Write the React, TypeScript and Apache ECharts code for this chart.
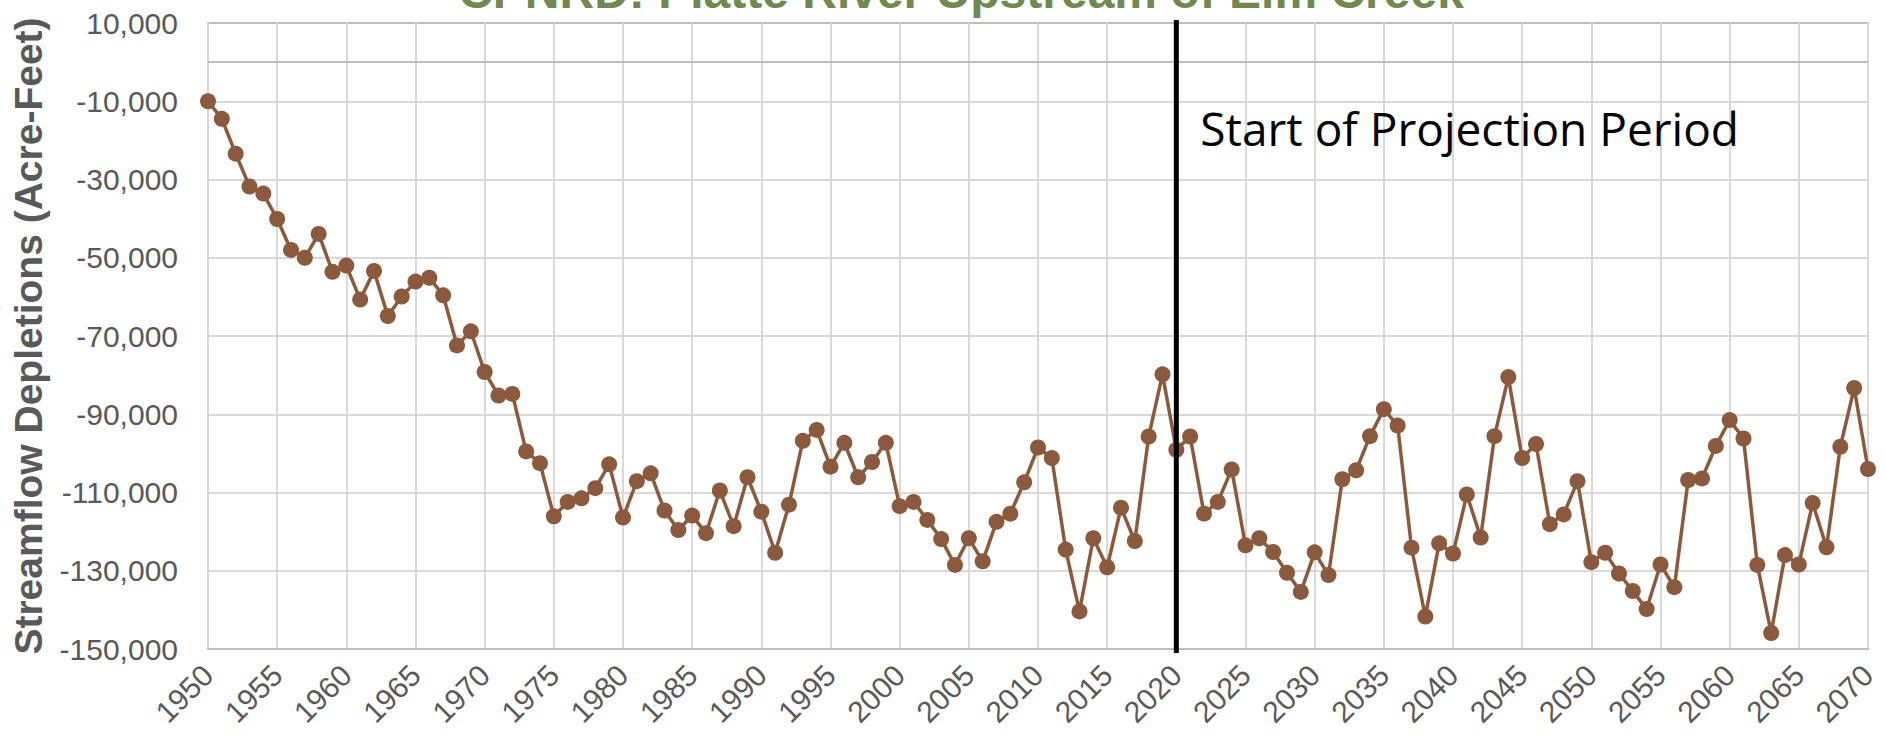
import { useEffect, useRef } from 'react';
import * as echarts from 'echarts';

// ---- data ----
const START_YEAR = 1950;
const END_YEAR = 2070;
const years: string[] = [];
for (let y = START_YEAR; y <= END_YEAR; y++) years.push(String(y));

// Streamflow depletions (acre-feet), 1950..2070
const depletions1950s = [-10000, -14500, -23400, -31800, -33600, -40100, -48000, -50000, -43900, -53600];
const depletions1960s = [-52000, -60700, -53400, -64900, -59900, -56100, -55100, -59600, -72400, -68800];
const depletions1970s = [-79200, -85200, -84800, -99500, -102500, -116100, -112400, -111500, -108900, -102800];
const depletions1980s = [-116400, -107100, -105100, -114600, -119600, -115900, -120400, -109500, -118600, -106100];
const depletions1990s = [-114900, -125400, -113100, -96800, -94000, -103400, -97300, -106100, -102200, -97300];
const depletions2000s = [-113500, -112400, -117000, -121900, -128500, -121700, -127600, -117500, -115400, -107400];
const depletions2010s = [-98500, -101200, -124600, -140400, -121700, -129100, -113900, -122400, -95700, -79800];
const depletions2020s = [-99100, -95700, -115400, -112400, -104100, -123500, -121700, -125200, -130500, -135400];
const depletions2030s = [-125300, -131100, -106600, -104300, -95600, -88700, -92900, -124100, -141700, -123000];
const depletions2040s = [-125600, -110500, -121500, -95600, -80500, -101200, -97600, -118100, -115600, -107100];
const depletions2050s = [-127800, -125400, -130700, -135200, -139800, -128400, -134200, -106800, -106400, -98100];
const depletions2060s = [-91500, -96200, -128500, -145900, -126000, -128400, -112700, -124000, -98300, -83300];
const depletions2070 = [-104000];

const depletions = [
  ...depletions1950s, ...depletions1960s, ...depletions1970s, ...depletions1980s,
  ...depletions1990s, ...depletions2000s, ...depletions2010s, ...depletions2020s,
  ...depletions2030s, ...depletions2040s, ...depletions2050s, ...depletions2060s,
  ...depletions2070,
];

const projectionStartYear = '2020';
const titleText = 'CPNRD: Platte River Upstream of Elm Creek';
const yAxisName = 'Streamflow Depletions (Acre-Feet)';
const annotationText = 'Start of Projection Period';

// y axis: labels every 20,000 from -150,000 up to 10,000
const Y_MIN = -150000;
const Y_MAX = 10000;
const Y_STEP = 10000;
const Y_LABEL_STEP = 20000;
const yGridValues: number[] = [];
for (let v = Y_MIN + Y_LABEL_STEP; v < Y_MAX; v += Y_LABEL_STEP) yGridValues.push(v);
const zeroLineValue = 0;

const BROWN = '#8B5A3E';
const GRID_GRAY = '#D9D9D9';
const BORDER_GRAY = '#BFBFBF';
const TEXT_GRAY = '#595959';
const TITLE_GREEN = '#71894F';
const FONT = 'Liberation Sans, Arial, sans-serif';

export default function App() {
  const ref = useRef<HTMLDivElement>(null);

  useEffect(() => {
    document.body.style.margin = '0';
    const chart = echarts.init(ref.current as HTMLDivElement, null, { renderer: 'svg' });
    chart.setOption({
      animation: false,
      grid: {
        left: 208,
        right: 18,
        top: 23,
        bottom: 93,
        show: true,
        borderColor: BORDER_GRAY,
        borderWidth: 2,
        backgroundColor: 'transparent',
        containLabel: false,
        outerBoundsMode: 'none',
      },
      xAxis: {
        type: 'category',
        data: years,
        boundaryGap: false,
        axisLine: { show: true, onZero: false, lineStyle: { color: BORDER_GRAY, width: 2 } },
        axisTick: { show: false },
        axisLabel: {
          interval: 4,
          rotate: 45,
          margin: 21,
          fontSize: 30,
          color: TEXT_GRAY,
          fontFamily: FONT,
        },
        splitLine: { show: true, interval: 4, lineStyle: { color: GRID_GRAY, width: 2 } },
      },
      yAxis: {
        type: 'value',
        min: Y_MIN,
        max: Y_MAX,
        interval: Y_STEP,
        name: yAxisName,
        nameLocation: 'middle',
        nameGap: 160,
        nameRotate: 90,
        nameTextStyle: {
          fontSize: 39,
          fontWeight: 'bold',
          color: TEXT_GRAY,
          fontFamily: FONT,
        },
        axisLine: { show: false },
        axisTick: { show: false },
        axisLabel: {
          margin: 30,
          fontSize: 30,
          color: TEXT_GRAY,
          fontFamily: FONT,
          formatter: (v: number) =>
            Math.abs(v - Y_MIN) % Y_LABEL_STEP === 0 ? v.toLocaleString('en-US') : '',
        },
        splitLine: { show: false },
      },
      series: [
        {
          // gridlines drawn behind the data
          type: 'line',
          data: [],
          z: 1,
          silent: true,
          markLine: {
            silent: true,
            z: 1,
            symbol: ['none', 'none'],
            label: { show: false },
            emphasis: { disabled: true },
            data: [
              ...yGridValues.map((v) => ({
                yAxis: v,
                lineStyle: { color: GRID_GRAY, width: 2, type: 'solid' },
              })),
              { yAxis: zeroLineValue, lineStyle: { color: BORDER_GRAY, width: 2, type: 'solid' } },
            ],
          },
        },
        {
          type: 'line',
          data: depletions,
          z: 3,
          symbol: 'circle',
          symbolSize: 16,
          showAllSymbol: true,
          itemStyle: { color: BROWN },
          lineStyle: { color: BROWN, width: 3.5 },
          emphasis: { disabled: true },
        },
      ],
    });

    const lineX = chart.convertToPixel({ xAxisIndex: 0 }, projectionStartYear) as number;
    const topY = chart.convertToPixel({ yAxisIndex: 0 }, Y_MAX) as number;
    const bottomY = chart.convertToPixel({ yAxisIndex: 0 }, Y_MIN) as number;
    chart.setOption({
      graphic: [
        {
          id: 'projectionLine',
          type: 'line',
          silent: true,
          z: 100,
          shape: { x1: lineX, y1: topY - 3, x2: lineX, y2: bottomY + 4 },
          style: { stroke: '#000000', lineWidth: 5 },
        },
        {
          id: 'title',
          type: 'text',
          x: 961,
          y: -9,
          silent: true,
          style: {
            text: titleText,
            fill: TITLE_GREEN,
            fontSize: 48,
            fontWeight: 'bold',
            fontFamily: FONT,
            align: 'center',
            verticalAlign: 'middle',
          },
        },
        {
          id: 'annotation',
          type: 'text',
          x: lineX + 24,
          y: 128,
          silent: true,
          style: {
            text: annotationText,
            fill: '#000000',
            fontSize: 46,
            fontFamily: 'Open Sans, sans-serif',
            align: 'left',
            verticalAlign: 'middle',
          },
        },
      ],
    });

    return () => {
      chart.dispose();
    };
  }, []);

  return <div ref={ref} style={{ width: 1886, height: 742 }} />;
}
